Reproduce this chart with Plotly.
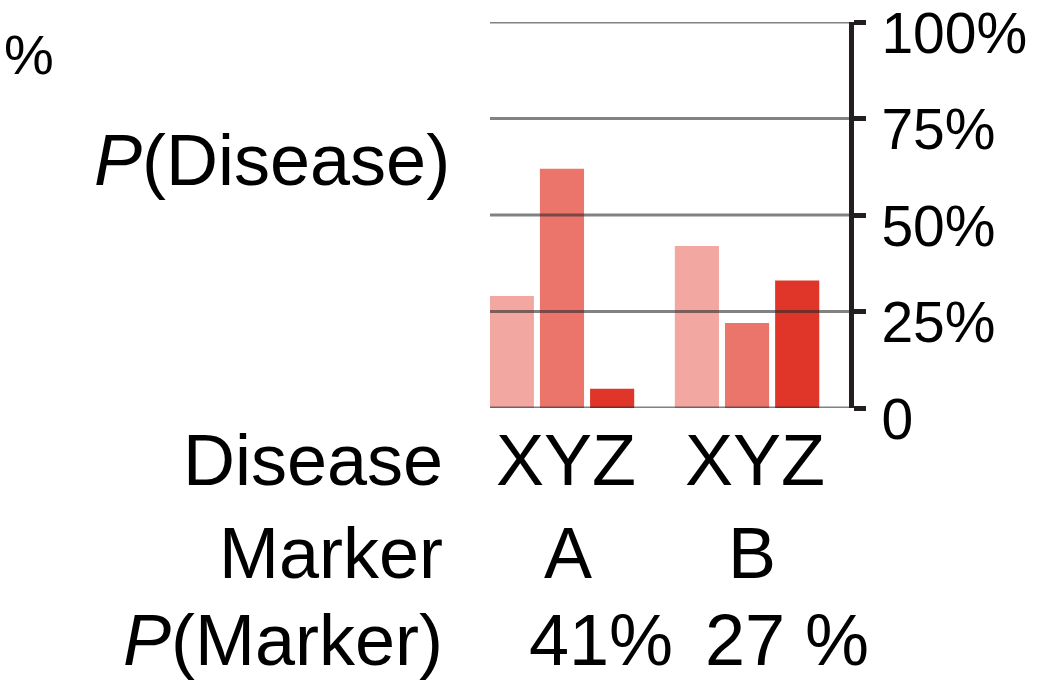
import plotly.graph_objects as go

# ---- data ----
markers = ["A", "B"]
diseases = ["X", "Y", "Z"]
p_disease_X = [29, 42]
p_disease_Y = [62, 22]
p_disease_Z = [5, 33]
p_marker_labels = ["41%", "27 %"]
tick_vals = [0, 25, 50, 75, 100]
tick_text = ["0", "25%", "50%", "75%", "100%"]

colors = ["#F2A7A1", "#EB746B", "#E0362A"]
series = [p_disease_X, p_disease_Y, p_disease_Z]

W, H = 1037, 685
L, R, T, B = 490, 188, 22, 277
FONT = "Liberation Sans, Arial, Helvetica, sans-serif"

def px(x):
    return (x - L) / (W - L - R)

def py(y):
    return 1 - (y - T) / (H - T - B)

fig = go.Figure()
for name, vals, col in zip(diseases, series, colors):
    fig.add_trace(go.Bar(x=markers, y=vals, name=name, marker_color=col,
                         marker_line_width=0, showlegend=False))

# gridlines drawn above bars
shapes = []
for v in tick_vals:
    shapes.append(dict(type="line", xref="paper", x0=0, x1=1, yref="y", y0=v, y1=v,
                       line=dict(color="rgba(40,40,40,0.58)", width=3), layer="above"))

ann = []
big = dict(family=FONT, size=72, color="black")
ann.append(dict(text="<i>P</i>(Disease)", xref="paper", yref="paper", x=px(452), y=py(160),
                xanchor="right", yanchor="middle", showarrow=False, font=big))
ann.append(dict(text="%", xref="paper", yref="paper", x=px(56), y=py(55),
                xanchor="right", yanchor="middle", showarrow=False,
                font=dict(family=FONT, size=56, color="black")))
rows = [("Disease", 460), ("Marker", 553), ("<i>P</i>(Marker)", 640)]
for t, yy in rows:
    ann.append(dict(text=t, xref="paper", yref="paper", x=px(445), y=py(yy),
                    xanchor="right", yanchor="middle", showarrow=False, font=big))
xyz = "".join(diseases)
shifts_xyz = [4, 8]
shifts_m = [6, 5]
shifts_p = [39, 40]
for i, m in enumerate(markers):
    ann.append(dict(text=xyz, xref="x", yref="paper", x=m, y=py(460), xshift=shifts_xyz[i],
                    xanchor="center", yanchor="middle", showarrow=False, font=big))
    ann.append(dict(text=m, xref="x", yref="paper", x=m, y=py(553), xshift=shifts_m[i],
                    xanchor="center", yanchor="middle", showarrow=False, font=big))
    ann.append(dict(text=p_marker_labels[i], xref="x", yref="paper", x=m, y=py(640),
                    xshift=shifts_p[i], xanchor="center", yanchor="middle",
                    showarrow=False, font=big))

fig.update_layout(
    width=W, height=H,
    margin=dict(l=L, r=R, t=T, b=B, pad=0, autoexpand=False),
    paper_bgcolor="white", plot_bgcolor="white",
    barmode="group", bargap=0.187, bargroupgap=0.12,
    shapes=shapes, annotations=ann,
    xaxis=dict(range=[-0.389, 1.551], showticklabels=False, showgrid=False,
               zeroline=False, showline=False, ticks="", automargin=False),
    yaxis=dict(range=[0, 100], side="right", tickvals=tick_vals, ticktext=tick_text,
               showgrid=False, zeroline=False, showline=True, linewidth=5,
               linecolor="#231f20", ticks="outside", ticklen=12, tickwidth=5,
               tickcolor="#231f20", ticklabelstandoff=4, ticklabelshift=11,
               ticklabeloverflow="allow", automargin=False,
               tickfont=dict(family=FONT, size=57, color="black")),
)

fig.write_html("out.html", config={"displayModeBar": False},
               post_script="document.body.style.margin='0';")
